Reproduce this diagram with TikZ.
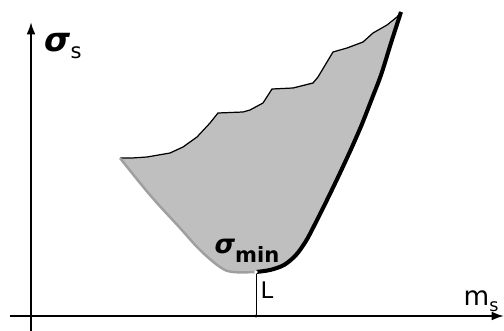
\documentclass[tikz,border=0pt]{standalone}
\usepackage{fontspec}
\setmainfont{DejaVu Sans}
\usetikzlibrary{positioning}
\usetikzlibrary{arrows.meta}

\begin{document}
\begin{tikzpicture}[x=0.02cm, y=-0.02cm]

\useasboundingbox (0,0) rectangle (504,331);

% axes
\coordinate (xstart) at (10,316);
\coordinate (xend) at (504,316);
\coordinate (ystart) at (31,331);
\coordinate (yend) at (31,22);

% point L and its foot on the axis
\coordinate (L) at (256,272);
\coordinate (Lfoot) at (256,316);
\coordinate (left) at (120,158);
\coordinate (top) at (401,12);

% region
\fill[gray!50] (left)
  -- (132,158) -- (147,157) -- (170,153) -- (183,147) -- (197,137) -- (210,123)
  -- (218,113) -- (243,112) -- (250,110) -- (263,103) -- (272,89) -- (293,88)
  -- (313,83) -- (318,77) -- (333,52) -- (347,48) -- (363,42) -- (373,33)
  -- (387,25) -- (397,17) -- (top)
  -- (391,43) -- (381,75) -- (371,101) -- (362,124) -- (352,147) -- (340,173)
  -- (327,200) -- (314,226) -- (306,241) -- (296,255) -- (284,265) -- (270,270) -- (L)
  -- (233,272) -- (220,267) -- (200,250) -- (180,228) -- (150,195) -- cycle;

%bord haut
\draw[line width=0.7pt] (left)
  -- (132,158) -- (147,157) -- (170,153) -- (183,147) -- (197,137) -- (210,123)
  -- (218,113) -- (243,112) -- (250,110) -- (263,103) -- (272,89) -- (293,88)
  -- (313,83) -- (318,77) -- (333,52) -- (347,48) -- (363,42) -- (373,33)
  -- (387,25) -- (397,17) -- (top);

%bord bas
\draw[line width=1.4pt, gray!75] plot[smooth, tension=0.6] coordinates {(L) (233,272) (220,267) (200,250) (180,228) (150,195) (left)};

%frontiere
\draw[line width=2.3pt] plot[smooth, tension=0.5] coordinates {(L) (270,270) (284,265) (296,255) (306,241) (314,226)
    (327,200) (340,173) (352,147) (362,124) (371,101) (381,75) (391,43) (top)};

% axes
\draw[line width=1.1pt, -{Latex[length=7pt, width=5pt]}] (xstart) -- (xend);
\draw[line width=1.1pt, -{Latex[length=7pt, width=5pt]}] (ystart) -- (yend);

% L
\draw[line width=0.5pt] (L) -- (Lfoot);
\fill (Lfoot) circle (1.7);
\fill[white] (L) circle (1.8);

% labels
\node[inner sep=0pt] (sigmaS) at (63,46) {\fontsize{19}{20}\selectfont\bfseries\itshape σ\raisebox{-0.35ex}{\normalfont\large s}};
\node[inner sep=0pt] (mS) at (481,301) {\fontsize{15}{16}\selectfont m\raisebox{-0.45ex}{\normalsize s}};
\node[inner sep=0pt, font=\fontsize{13}{14}\selectfont] (labelL) at (267,290) {L};
\node[inner sep=0pt] (sigmaMin) at (247,251) {\fontsize{15}{16}\selectfont\bfseries\itshape σ\raisebox{-0.6ex}{\upshape\large min}};

\end{tikzpicture}
\end{document}
